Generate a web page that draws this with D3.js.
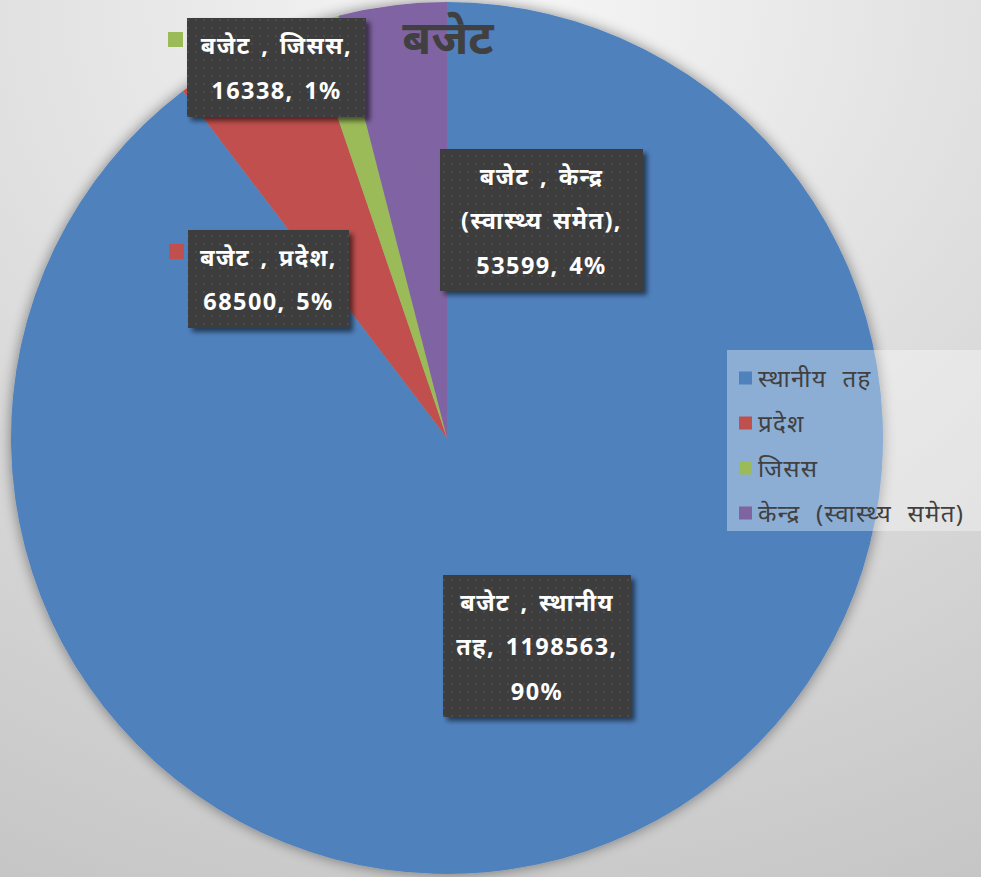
<!DOCTYPE html>
<html>
<head>
<meta charset="utf-8" />
<script src="https://d3js.org/d3.v7.min.js"></script>
<style>
  body { margin: 0; }
  svg { display: block; }
</style>
</head>
<body>
<svg id="chart"></svg>
<script>
// data
var categories = ["स्थानीय तह", "प्रदेश", "जिसस", "केन्द्र (स्वास्थ्य समेत)"];
var values = [1198563, 68500, 16338, 53599];
var labelLines = [
  ["बजेट , स्थानीय", "तह, 1198563,", "90%"],
  ["बजेट , प्रदेश,", "68500, 5%"],
  ["बजेट , जिसस,", "16338, 1%"],
  ["बजेट , केन्द्र", "(स्वास्थ्य समेत),", "53599, 4%"]
];
var colors = ["#4F81BD", "#C0504D", "#9BBB59", "#8064A2"];
var title = "बजेट";

// label boxes as placed in the original (left, top, width, height)
var labelBoxes = [
  [443, 575, 188, 142],
  [188, 230, 161, 98],
  [187, 18, 179, 99],
  [440, 149, 203, 142]
];

var width = 981, height = 877;
var cx = 447, cy = 438, radius = 436;
var font = "'Noto Sans', 'Noto Sans Devanagari', sans-serif";

var svg = d3.select("#chart").attr("width", width).attr("height", height);
var defs = svg.append("defs");

var bg = defs.append("radialGradient").attr("id", "bg")
  .attr("cx", "50%").attr("cy", "0%").attr("r", "115%");
bg.append("stop").attr("offset", "0%").attr("stop-color", "#f7f7f7");
bg.append("stop").attr("offset", "100%").attr("stop-color", "#c4c4c4");

var pieShadow = defs.append("filter").attr("id", "pieShadow")
  .attr("x", "-10%").attr("y", "-10%").attr("width", "120%").attr("height", "120%");
pieShadow.append("feGaussianBlur").attr("in", "SourceAlpha").attr("stdDeviation", 7);
pieShadow.append("feComponentTransfer").append("feFuncA").attr("type", "linear").attr("slope", 0.45);
var m1 = pieShadow.append("feMerge");
m1.append("feMergeNode");
m1.append("feMergeNode").attr("in", "SourceGraphic");

var boxShadow = defs.append("filter").attr("id", "boxShadow")
  .attr("x", "-10%").attr("y", "-10%").attr("width", "130%").attr("height", "130%");
boxShadow.append("feGaussianBlur").attr("in", "SourceAlpha").attr("stdDeviation", 2.5);
boxShadow.append("feOffset").attr("dx", 4).attr("dy", 4);
boxShadow.append("feComponentTransfer").append("feFuncA").attr("type", "linear").attr("slope", 0.55);
var m2 = boxShadow.append("feMerge");
m2.append("feMergeNode");
m2.append("feMergeNode").attr("in", "SourceGraphic");

var dots = defs.append("pattern").attr("id", "dots")
  .attr("patternUnits", "userSpaceOnUse").attr("width", 8).attr("height", 8);
dots.append("rect").attr("width", 8).attr("height", 8).attr("fill", "#3d3d3d");
dots.append("circle").attr("cx", 4).attr("cy", 4).attr("r", 1.1).attr("fill", "#4e4e4e");

svg.append("rect").attr("width", width).attr("height", height).attr("fill", "url(#bg)");

// pie
var pie = d3.pie().sort(null).value(function(d) { return d; });
var arc = d3.arc().innerRadius(0).outerRadius(radius);
var arcs = pie(values);

svg.append("g")
  .attr("transform", "translate(" + cx + "," + cy + ")")
  .attr("filter", "url(#pieShadow)")
  .selectAll("path")
  .data(arcs)
  .enter().append("path")
  .attr("d", arc)
  .attr("fill", function(d, i) { return colors[i]; });

// title
svg.append("text")
  .attr("x", 448).attr("y", 54)
  .attr("text-anchor", "middle")
  .attr("font-family", font)
  .attr("font-size", 47)
  .attr("font-weight", "bold")
  .attr("fill", "#404040")
  .text(title);

// data labels
var labels = svg.append("g").selectAll("g.label")
  .data(arcs)
  .enter().append("g")
  .attr("class", "label");

labels.append("rect")
  .attr("x", function(d, i) { return labelBoxes[i][0] - 19; })
  .attr("y", function(d, i) { return labelBoxes[i][1] + 14; })
  .attr("width", 15).attr("height", 15)
  .attr("fill", function(d, i) { return colors[i]; });

labels.append("rect")
  .attr("x", function(d, i) { return labelBoxes[i][0]; })
  .attr("y", function(d, i) { return labelBoxes[i][1]; })
  .attr("width", function(d, i) { return labelBoxes[i][2]; })
  .attr("height", function(d, i) { return labelBoxes[i][3]; })
  .attr("fill", "url(#dots)")
  .attr("filter", "url(#boxShadow)");

labels.each(function(d, i) {
  var b = labelBoxes[i];
  var lines = labelLines[i];
  var lineH = 44.5;
  var top = b[1] + b[3] / 2 - (lines.length - 1) * lineH / 2;
  var t = d3.select(this).append("text")
    .attr("text-anchor", "middle")
    .attr("font-family", font)
    .attr("font-size", 23.5)
    .attr("font-weight", "bold")
    .attr("letter-spacing", 1.4)
    .attr("word-spacing", 3)
    .attr("fill", "#ffffff");
  lines.forEach(function(line, j) {
    t.append("tspan")
      .attr("x", b[0] + b[2] / 2)
      .attr("y", top + j * lineH + 9)
      .text(line);
  });
});

// legend
var legend = svg.append("g");
legend.append("rect")
  .attr("x", 727).attr("y", 350)
  .attr("width", 254).attr("height", 181)
  .attr("fill", "#ffffff").attr("fill-opacity", 0.35);

var legendY = d3.scaleBand().domain(categories).range([356, 536]);

var items = legend.selectAll("g.item")
  .data(categories)
  .enter().append("g")
  .attr("class", "item")
  .attr("transform", function(d) { return "translate(739," + (legendY(d) + legendY.bandwidth() / 2 - 7) + ")"; });

items.append("rect")
  .attr("width", 13).attr("height", 13)
  .attr("fill", function(d, i) { return colors[i]; });

items.append("text")
  .attr("x", 19).attr("y", 15)
  .attr("font-family", font)
  .attr("font-size", 24)
  .attr("letter-spacing", 1.3)
  .attr("word-spacing", 8)
  .attr("fill", "#404040")
  .text(function(d) { return d; });
</script>
</body>
</html>
